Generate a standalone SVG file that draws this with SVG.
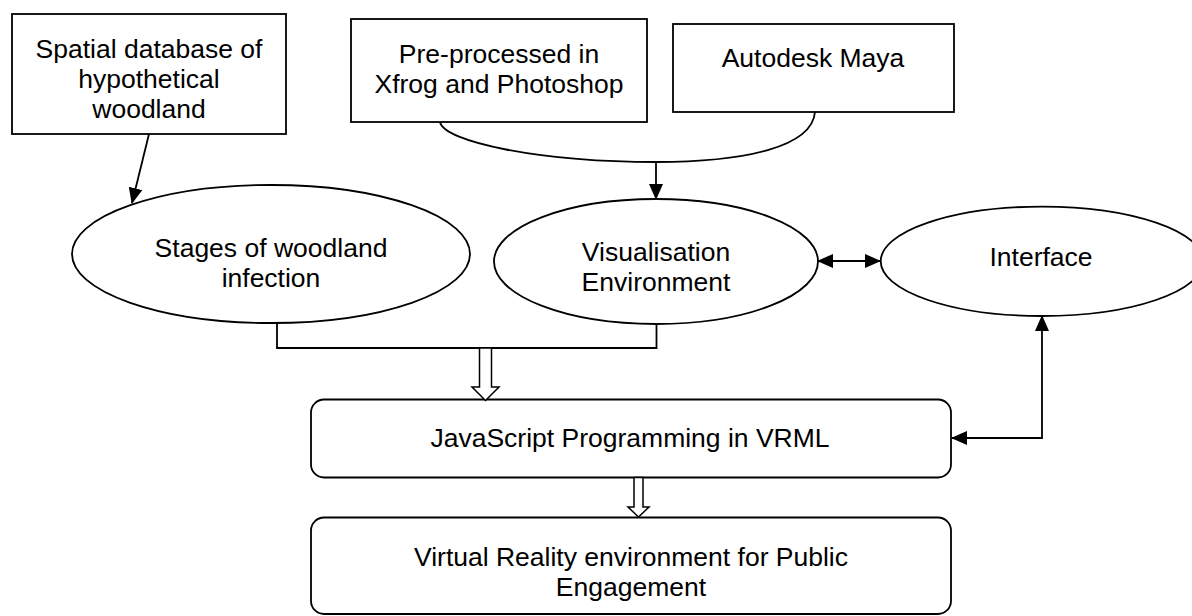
<svg xmlns="http://www.w3.org/2000/svg" width="1192" height="616" viewBox="0 0 1192 616">
<style>
.box{fill:#fff;stroke:#000;stroke-width:1.8}
.t{font-family:"Liberation Sans",Arial,sans-serif;font-size:26.5px;fill:#000;text-anchor:middle}
.ln{fill:none;stroke:#000;stroke-width:1.8}
.hol{fill:#fff;stroke:#000;stroke-width:1.5;stroke-linejoin:miter}
</style>
<defs>
<marker id="ah" markerUnits="userSpaceOnUse" markerWidth="16" markerHeight="14" refX="15" refY="7" orient="auto-start-reverse" viewBox="0 0 16 14">
<path d="M0,0 L16,7 L0,14 z" fill="#000"/>
</marker>
</defs>
<rect width="1192" height="616" fill="#fff"/>

<g id="spatial-db">
<rect class="box" x="12" y="14" width="274" height="120"/>
<text class="t" x="149" y="58">Spatial database of</text>
<text class="t" x="149" y="88">hypothetical</text>
<text class="t" x="149" y="118">woodland</text>
</g>

<g id="preprocessed">
<rect class="box" x="351" y="19" width="296" height="103"/>
<text class="t" x="499" y="63">Pre-processed in</text>
<text class="t" x="499" y="93">Xfrog and Photoshop</text>
</g>

<g id="maya">
<rect class="box" x="673" y="24" width="281" height="88"/>
<text class="t" x="813" y="67">Autodesk Maya</text>
</g>

<g id="stages">
<ellipse class="box" cx="271" cy="254" rx="199" ry="69"/>
<text class="t" x="271" y="257">Stages of woodland</text>
<text class="t" x="271" y="287">infection</text>
</g>

<g id="visualisation">
<ellipse class="box" cx="656" cy="261.5" rx="162" ry="62.5"/>
<text class="t" x="656" y="261">Visualisation</text>
<text class="t" x="656" y="291">Environment</text>
</g>

<g id="interface">
<ellipse class="box" cx="1042" cy="261.3" rx="161.3" ry="54.7"/>
<text class="t" x="1041" y="266">Interface</text>
</g>

<g id="javascript">
<rect class="box" x="311" y="399.5" width="640" height="78" rx="13" ry="13"/>
<text class="t" x="630" y="447">JavaScript Programming in VRML</text>
</g>

<g id="vr-environment">
<rect class="box" x="311" y="517.5" width="640" height="96.5" rx="13" ry="13"/>
<text class="t" x="631" y="566">Virtual Reality environment for Public</text>
<text class="t" x="631" y="596">Engagement</text>
</g>

<g id="connectors">
<line class="ln" x1="149" y1="134" x2="132" y2="203" marker-end="url(#ah)"/>
<path class="ln" d="M440,122 C444,142 540,162 656,162 C745,162 812,147 815,112"/>
<line class="ln" x1="656" y1="162" x2="656" y2="199" marker-end="url(#ah)"/>
<line class="ln" x1="818" y1="261" x2="880" y2="261" marker-start="url(#ah)" marker-end="url(#ah)"/>
<path class="ln" d="M1042,316 L1042,438 L952,438" marker-start="url(#ah)" marker-end="url(#ah)"/>
<path class="ln" d="M277,323 L277,348 L656.5,348 L656.5,324"/>
<polygon class="hol" points="479.5,348 491.5,348 491.5,387 499,387 485.5,400.5 472,387 479.5,387"/>
<polygon class="hol" points="634,477.5 643,477.5 643,507 649,507 638.5,517 628,507 634,507"/>
</g>
</svg>
